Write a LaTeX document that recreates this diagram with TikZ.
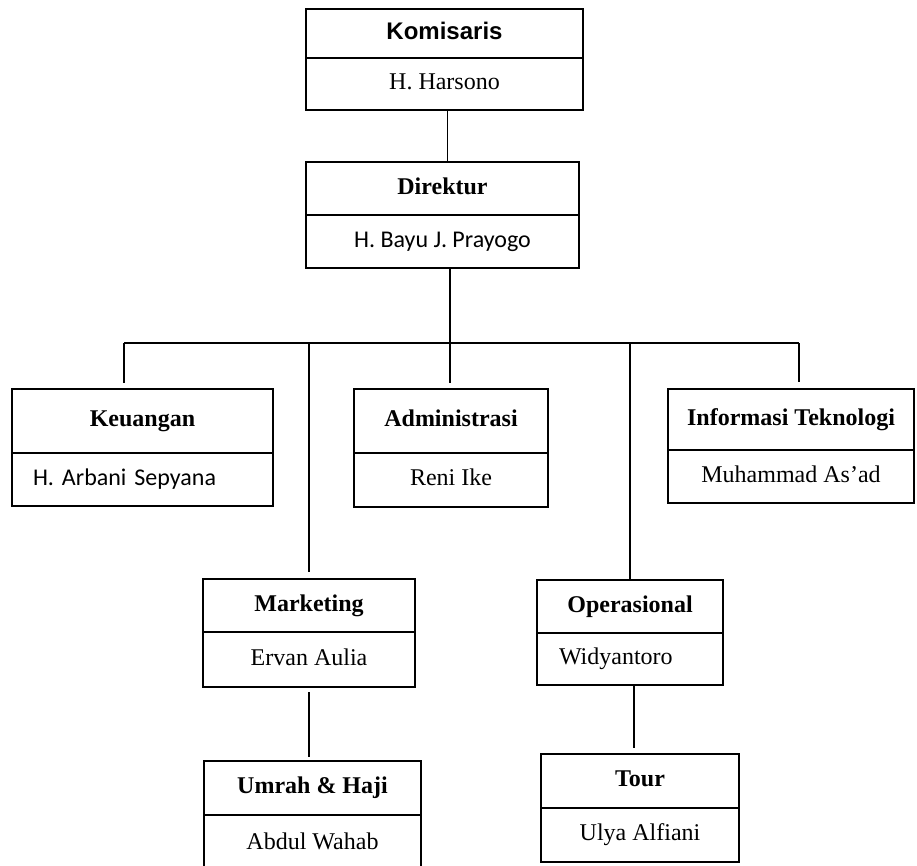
\documentclass[tikz,border=0pt]{standalone}
\usepackage{fontspec}
\setmainfont{Liberation Serif}
\newfontfamily\arialfont{Liberation Sans}
\newfontfamily\calibrifont{Carlito}
\usepackage{tikz}
\usetikzlibrary{calc}

\begin{document}
\begin{tikzpicture}[x=1pt,y=-1pt]
        % Define the styles for the boxes and the lines
        \tikzset{
            jabatan/.style={draw, line width=2pt, outer sep=0pt, inner sep=0pt, text height=17pt, text depth=6pt, font=\fontsize{24}{28}\selectfont\bfseries},
            nama/.style={draw, line width=2pt, outer sep=0pt, inner sep=0pt, text height=17pt, text depth=6pt, font=\fontsize{24}{28}\selectfont},
            garis/.style={line width=1.3pt}
        }
        \useasboundingbox (0,0) rectangle (917,865);

        % Komisaris and Direktur
        \node[jabatan, minimum width=277pt, minimum height=49pt] (komisaris) at (444.5,33.5) {\arialfont Komisaris};
        \node[nama, minimum width=277pt, minimum height=52pt] (komisarisnama) at (444.5,84) {H. Harsono};
        \node[jabatan, minimum width=273pt, minimum height=53pt] (direktur) at (442.5,188.5) {Direktur};
        \node[nama, minimum width=273pt, minimum height=53pt] (direkturnama) at (442.5,241.5) {\calibrifont H. Bayu J. Prayogo};

        % First row of divisions
        \node[jabatan, minimum width=261pt, minimum height=64pt] (keuangan) at (142.5,421) {Keuangan};
        \node[nama, minimum width=261pt, minimum height=53pt, inner xsep=21pt, text width=219pt, align=left] (keuangannama) at (142.5,479.5) {\calibrifont H. Arbani Sepyana};
        \node[jabatan, minimum width=194pt, minimum height=64pt] (administrasi) at (451,421) {Administrasi};
        \node[nama, minimum width=194pt, minimum height=54pt] (administrasinama) at (451,480) {Reni Ike};
        \node[jabatan, minimum width=246pt, minimum height=61pt] (it) at (791,419.5) {Informasi Teknologi};
        \node[nama, minimum width=246pt, minimum height=53pt] (itnama) at (791,476.5) {Muhammad As’ad};

        % Second row of divisions
        \node[jabatan, minimum width=212pt, minimum height=53pt] (marketing) at (309,605.5) {Marketing};
        \node[nama, minimum width=212pt, minimum height=55pt] (marketingnama) at (309,659.5) {Ervan Aulia};
        \node[jabatan, minimum width=186pt, minimum height=53pt] (operasional) at (630,606.5) {Operasional};
        \node[nama, minimum width=186pt, minimum height=52pt, inner xsep=22pt, text width=142pt, align=left] (operasionalnama) at (630,659) {Widyantoro};

        % Bottom row
        \node[jabatan, minimum width=217pt, minimum height=54pt] (umrah) at (312.5,788) {Umrah \& Haji};
        \node[nama, minimum width=217pt, minimum height=58pt] (umrahnama) at (312.5,844) {Abdul Wahab};
        \node[jabatan, minimum width=198pt, minimum height=54pt] (tour) at (640,781) {Tour};
        \node[nama, minimum width=198pt, minimum height=54pt] (tournama) at (640,835) {Ulya Alfiani};

        % Branch points
        \coordinate (cabang) at (450,343);
        \coordinate (kiri) at (124,343);
        \coordinate (kanan) at (799,343);

        % Lines between the boxes
        \draw[garis] ([xshift=3pt]komisarisnama.south) -- ([xshift=3pt]komisarisnama.south |- direktur.north);
        \draw[garis] (cabang |- direkturnama.south) -- (cabang);
        \draw[garis] (kiri) -- (kanan);
        \draw[garis, shorten >=6pt] (kiri) -- (kiri |- keuangan.north);
        \draw[garis, shorten >=6pt] (cabang) -- (cabang |- administrasi.north);
        \draw[garis, shorten >=7pt] (kanan) -- (kanan |- it.north);
        \draw[garis, shorten >=7pt] (cabang -| marketing.north) -- (marketing.north);
        \draw[garis] (cabang -| operasional.north) -- (operasional.north);
        \draw[garis, shorten <=5pt, shorten >=4pt] (marketingnama.south) -- (marketingnama.south |- umrah.north);
        \draw[garis, shorten >=6pt] ([xshift=4pt]operasionalnama.south) -- ([xshift=4pt]operasionalnama.south |- tour.north);
    \end{tikzpicture}
\end{document}
